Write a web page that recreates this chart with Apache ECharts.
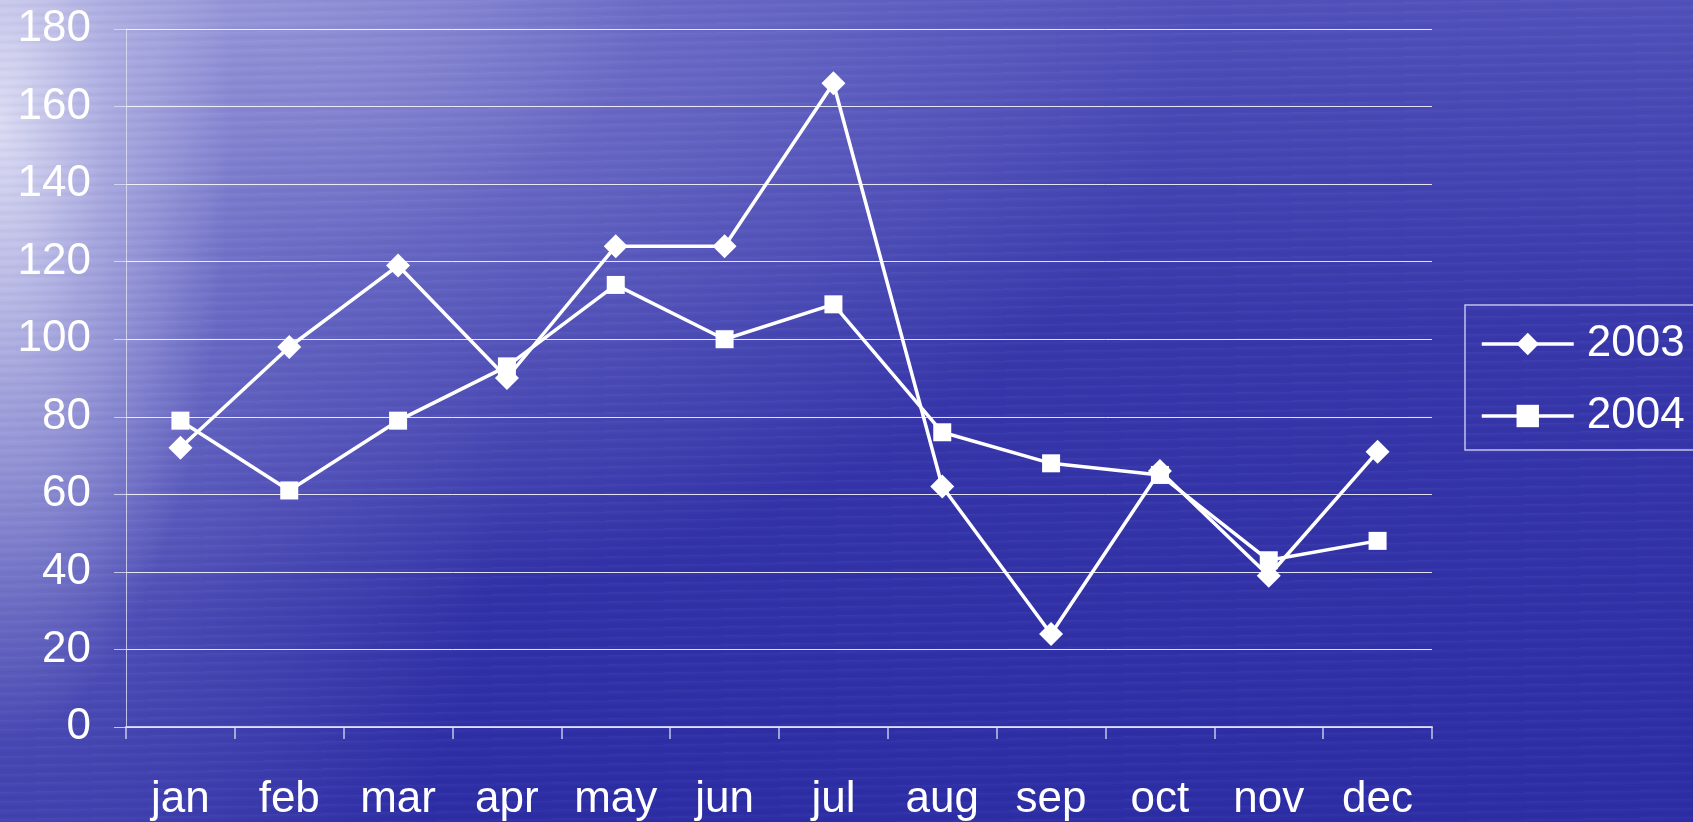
<!DOCTYPE html>
<html>
<head>
<meta charset="utf-8">
<title>2003 / 2004</title>
<script src="https://cdn.jsdelivr.net/npm/echarts/dist/echarts.min.js"></script>
<style>
html, body {
  margin: 0;
  padding: 0;
  width: 1693px;
  height: 822px;
  overflow: hidden;
}
body {
  background:
    repeating-linear-gradient(179deg, rgba(255,255,255,0.035) 0px, rgba(255,255,255,0) 3px, rgba(0,0,40,0.035) 6px, rgba(255,255,255,0) 9px),
    radial-gradient(ellipse 230px 620px at 0px 120px, rgba(235,235,250,0.85) 0%, rgba(210,210,240,0.5) 45%, rgba(180,180,230,0) 100%),
    radial-gradient(ellipse 520px 900px at 0px 300px, rgba(150,150,220,0.55) 0%, rgba(120,120,205,0.3) 55%, rgba(100,100,200,0) 100%),
    radial-gradient(ellipse 1000px 620px at 200px 0px, rgba(175,175,228,0.9) 0%, rgba(130,130,210,0.55) 45%, rgba(90,90,190,0) 100%),
    linear-gradient(180deg, #5252bc 0%, #3838ac 40%, #2d2da6 100%);
}
#chart {
  width: 1693px;
  height: 822px;
}
</style>
</head>
<body>
<div id="chart"></div>
<script>
// 类目轴
const months = ['jan', 'feb', 'mar', 'apr', 'may', 'jun', 'jul', 'aug', 'sep', 'oct', 'nov', 'dec'];
// 两年的数据
const values2003 = [72, 98, 119, 90, 124, 124, 166, 62, 24, 66, 39, 71];
const values2004 = [79, 61, 79, 93, 114, 100, 109, 76, 68, 65, 43, 48];
// y 轴刻度
const yMin = 0;
const yMax = 180;
const yStep = 20;

const fontFamily = '"Liberation Sans", Arial, sans-serif';
const white = '#ffffff';

function makeSeries(name, data, symbol, size) {
  return {
    name: name,
    type: 'line',
    data: data,
    symbol: symbol,
    symbolSize: size,
    showAllSymbol: true,
    animation: false,
    lineStyle: { color: white, width: 3.5 },
    itemStyle: { color: white, borderWidth: 0 }
  };
}

function initChart() {
  const chart = echarts.init(document.getElementById('chart'), null, { renderer: 'canvas' });
  const option = {
    backgroundColor: 'transparent',
    animation: false,
    grid: {
      left: 126,
      right: 261,
      top: 29,
      bottom: 92,
      containLabel: false
    },
    legend: {
      orient: 'vertical',
      left: 1465,
      top: 305,
      padding: [17, 20, 12, 15],
      itemWidth: 92,
      itemHeight: 28,
      itemGap: 28,
      borderColor: 'rgba(220,220,245,0.85)',
      borderWidth: 1.5,
      data: ['2003', '2004'],
      lineStyle: { color: white, width: 3.5 },
      textStyle: {
        color: white,
        fontSize: 44,
        lineHeight: 44,
        fontFamily: fontFamily,
        padding: [0, 0, 0, 8]
      }
    },
    xAxis: {
      type: 'category',
      data: months,
      boundaryGap: true,
      axisLine: { lineStyle: { color: 'rgba(225,225,245,0.85)', width: 2 } },
      axisTick: { show: true, length: 12, lineStyle: { color: 'rgba(225,225,245,0.85)', width: 1.5 } },
      axisLabel: {
        color: white,
        fontSize: 44,
        fontFamily: fontFamily,
        margin: 51,
        interval: 0
      },
      splitLine: { show: false }
    },
    yAxis: {
      type: 'value',
      min: yMin,
      max: yMax,
      interval: yStep,
      axisLine: { show: true, lineStyle: { color: 'rgba(225,225,245,0.8)', width: 1 } },
      axisTick: { show: true, length: 12, lineStyle: { color: 'rgba(225,225,245,0.8)', width: 1 } },
      axisLabel: {
        color: white,
        fontSize: 44,
        fontFamily: fontFamily,
        margin: 35
      },
      splitLine: { show: true, lineStyle: { color: 'rgba(255,255,255,0.85)', width: 1 } }
    },
    series: [
      makeSeries('2003', values2003, 'diamond', 24),
      makeSeries('2004', values2004, 'rect', 18)
    ]
  };
  chart.setOption(option);
}

initChart();
</script>
</body>
</html>
